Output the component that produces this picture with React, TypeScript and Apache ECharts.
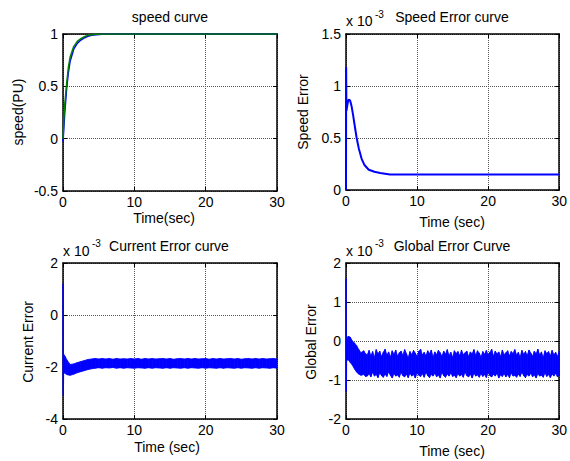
import React, { useEffect, useRef } from "react";
import * as echarts from "echarts";

// ---------- data ----------
// Time axis (s)
const X_MIN = 0;
const X_MAX = 30;
const X_INTERVAL = 10;

// Top-left: speed curve (PU)
const speedReference: [number, number][] = [
  [0, 0], [0.1, 0.17], [0.25, 0.33], [0.5, 0.52], [0.75, 0.68], [1, 0.78], [1.5, 0.88],
  [2, 0.93], [2.5, 0.955], [3, 0.975], [3.5, 0.988], [4.5, 0.998], [6, 1], [30, 1],
];
const speedActual: [number, number][] = [
  [0, -0.03], [0.1, 0.08], [0.25, 0.25], [0.5, 0.47], [0.75, 0.63], [1, 0.74], [1.5, 0.855],
  [2, 0.91], [2.5, 0.942], [3, 0.963], [3.5, 0.978], [4, 0.988], [5, 0.996], [6, 1], [30, 1],
];

// Top-right: speed error (x 10^-3)
const speedError: [number, number][] = [
  [0, 0], [0.02, 1.18], [0.06, 0.76], [0.15, 0.8], [0.3, 0.86], [0.45, 0.87], [0.6, 0.855],
  [0.8, 0.8], [1.0, 0.72], [1.2, 0.63], [1.5, 0.5], [1.8, 0.4], [2.2, 0.3], [2.6, 0.24],
  [3.2, 0.195], [4.0, 0.175], [4.8, 0.163], [6.2, 0.15], [8, 0.148], [30, 0.148],
];

// Bottom-left: current error (x 10^-3) — initial spike and noise band [t, upper, lower]
const currentSpike: [number, number][] = [[0, 1.2], [0.03, -3.1], [0.07, -1.6]];
const currentBand: [number, number, number][] = [
  [0.08, -1.5, -2.2], [0.3, -1.6, -2.25], [0.6, -1.75, -2.3], [1.0, -1.9, -2.32], [1.5, -1.88, -2.28],
  [2.0, -1.83, -2.22], [2.5, -1.79, -2.18], [3.0, -1.75, -2.14], [3.5, -1.71, -2.1], [4.0, -1.69, -2.07],
  [4.5, -1.67, -2.05], [5, -1.69, -2.03], [5.5, -1.67, -2.05], [6, -1.69, -2.03], [6.5, -1.67, -2.04],
  [7, -1.7, -2.02], [7.5, -1.67, -2.05], [8, -1.69, -2.03], [8.5, -1.68, -2.05], [9, -1.69, -2.03],
  [9.5, -1.67, -2.04], [10, -1.69, -2.05], [10.5, -1.67, -2.03], [11, -1.7, -2.04], [11.5, -1.67, -2.05],
  [12, -1.69, -2.03], [12.5, -1.67, -2.05], [13, -1.69, -2.03], [13.5, -1.68, -2.04], [14, -1.67, -2.05],
  [14.5, -1.69, -2.03], [15, -1.67, -2.05], [15.5, -1.7, -2.03], [16, -1.68, -2.04], [16.5, -1.67, -2.05],
  [17, -1.69, -2.03], [17.5, -1.67, -2.05], [18, -1.69, -2.03], [18.5, -1.67, -2.04], [19, -1.69, -2.05],
  [19.5, -1.68, -2.03], [20, -1.67, -2.05], [20.5, -1.7, -2.03], [21, -1.67, -2.04], [21.5, -1.69, -2.05],
  [22, -1.67, -2.03], [22.5, -1.69, -2.05], [23, -1.68, -2.03], [23.5, -1.67, -2.04], [24, -1.69, -2.05],
  [24.5, -1.67, -2.03], [25, -1.7, -2.05], [25.5, -1.68, -2.03], [26, -1.67, -2.04], [26.5, -1.69, -2.05],
  [27, -1.67, -2.03], [27.5, -1.69, -2.05], [28, -1.67, -2.03], [28.5, -1.69, -2.04], [29, -1.68, -2.05],
  [29.5, -1.67, -2.03], [30, -1.69, -2.05],
];

// Bottom-right: global error (x 10^-3) — initial spike and noise band [t, upper, lower]
const globalSpike: [number, number][] = [[0, 1.6], [0.03, -1.3], [0.07, 0.0]];
const globalBand: [number, number, number][] = [
  [0.08, 0.02, -0.5], [0.3, 0.12, -0.48], [0.6, 0.1, -0.55], [0.9, 0.0, -0.62], [1.2, -0.05, -0.72],
  [1.5, -0.12, -0.8], [1.8, -0.22, -0.85], [2.1, -0.3, -0.88], [2.5, -0.25, -0.86], [2.75, -0.33, -0.91],
  [3.0, -0.35, -0.9], [3.25, -0.24, -0.84], [3.5, -0.38, -0.92], [3.75, -0.27, -0.8], [4.0, -0.42, -0.9],
  [4.25, -0.22, -0.86], [4.5, -0.33, -0.94], [4.75, -0.26, -0.82], [5.0, -0.4, -0.89], [5.25, -0.29, -0.93],
  [5.5, -0.21, -0.85], [5.75, -0.36, -0.91], [6.0, -0.28, -0.79], [6.25, -0.41, -0.88], [6.5, -0.25, -0.95],
  [6.75, -0.34, -0.84], [7.0, -0.23, -0.9], [7.25, -0.39, -0.87], [7.5, -0.3, -0.93], [7.75, -0.26, -0.81],
  [8.0, -0.37, -0.89], [8.25, -0.22, -0.92], [8.5, -0.32, -0.85], [8.75, -0.43, -0.94], [9.0, -0.27, -0.83],
  [9.25, -0.35, -0.9], [9.5, -0.24, -0.86], [9.75, -0.31, -0.95], [10, -0.4, -0.82], [10.25, -0.26, -0.88],
  [10.5, -0.21, -0.91], [10.75, -0.36, -0.84], [11, -0.29, -0.93], [11.25, -0.38, -0.8], [11.5, -0.25, -0.89],
  [11.75, -0.33, -0.94], [12, -0.23, -0.86], [12.25, -0.41, -0.9], [12.5, -0.28, -0.83], [12.75, -0.35, -0.92],
  [13, -0.24, -0.87], [13.25, -0.3, -0.95], [13.5, -0.39, -0.81], [13.75, -0.26, -0.89], [14, -0.34, -0.93],
  [14.25, -0.22, -0.85], [14.5, -0.37, -0.9], [14.75, -0.29, -0.82], [15, -0.42, -0.91], [15.25, -0.25, -0.88],
  [15.5, -0.32, -0.94], [15.75, -0.27, -0.84], [16, -0.38, -0.9], [16.25, -0.23, -0.86], [16.5, -0.35, -0.93],
  [16.75, -0.3, -0.8], [17, -0.26, -0.89], [17.25, -0.4, -0.92], [17.5, -0.28, -0.85], [17.75, -0.33, -0.95],
  [18, -0.22, -0.83], [18.25, -0.37, -0.9], [18.5, -0.25, -0.87], [18.75, -0.31, -0.93], [19, -0.41, -0.84],
  [19.25, -0.27, -0.91], [19.5, -0.34, -0.86], [19.75, -0.24, -0.94], [20, -0.36, -0.81], [20.25, -0.29, -0.89],
  [20.5, -0.21, -0.92], [20.75, -0.39, -0.85], [21, -0.26, -0.9], [21.25, -0.33, -0.83], [21.5, -0.28, -0.95],
  [21.75, -0.4, -0.87], [22, -0.23, -0.91], [22.25, -0.35, -0.84], [22.5, -0.3, -0.92], [22.75, -0.25, -0.86],
  [23, -0.38, -0.94], [23.25, -0.27, -0.82], [23.5, -0.32, -0.9], [23.75, -0.22, -0.88], [24, -0.36, -0.93],
  [24.25, -0.29, -0.85], [24.5, -0.41, -0.91], [24.75, -0.24, -0.8], [25, -0.34, -0.89], [25.25, -0.27, -0.94],
  [25.5, -0.37, -0.86], [25.75, -0.23, -0.9], [26, -0.31, -0.83], [26.25, -0.39, -0.92], [26.5, -0.26, -0.87],
  [26.75, -0.33, -0.95], [27, -0.21, -0.84], [27.25, -0.36, -0.9], [27.5, -0.28, -0.88], [27.75, -0.42, -0.93],
  [28, -0.25, -0.82], [28.25, -0.32, -0.91], [28.5, -0.27, -0.86], [28.75, -0.38, -0.94], [29, -0.24, -0.85],
  [29.25, -0.35, -0.9], [29.5, -0.29, -0.83], [29.75, -0.4, -0.92], [30, -0.26, -0.88],
];

// Y axis ranges for the four panels
const Y_RANGES = [
  { min: -0.5, max: 1, interval: 0.5 },
  { min: 0, max: 1.5, interval: 0.5 },
  { min: -4, max: 2, interval: 2 },
  { min: -2, max: 2, interval: 1 },
];

const TITLES = ["speed curve", "Speed Error curve", "Current Error curve", "Global Error Curve"];
const X_NAMES = ["Time(sec)", "Time (sec)", "Time (sec)", "Time (sec)"];
const Y_NAMES = ["speed(PU)", "Speed Error", "Current Error", "Global Error"];

// ---------- layout ----------
const GRIDS = [
  { left: 63, top: 34, width: 214, height: 157 },
  { left: 346, top: 34, width: 215, height: 156 },
  { left: 63, top: 263, width: 214, height: 156 },
  { left: 346, top: 263, width: 215, height: 156 },
];
const TITLE_POS = [[170, 17], [452, 17], [169, 246], [452, 246]];
const XNAME_POS = [[164, 218], [452, 222], [167, 447], [452, 451]];
const YNAME_POS = [[18, 112], [303, 112], [28, 342], [311, 342]];
const EXP_POS = [null, [346, 21, 375, 14], [63, 251, 92, 243], [346, 251, 375, 243]];

const FONT = '"Liberation Sans", Arial, Helvetica, sans-serif';
const BLUE = "#0000ff";
const GREEN = "#008000";

function bandRenderer(band: [number, number, number][]) {
  return (params: any, api: any) => {
    const i = params.dataIndex;
    if (i >= band.length - 1) return null;
    const a = band[i];
    const b = band[i + 1];
    const pts = [
      api.coord([a[0], a[1]]),
      api.coord([b[0], b[1]]),
      api.coord([b[0], b[2]]),
      api.coord([a[0], a[2]]),
    ];
    return {
      type: "polygon",
      shape: { points: pts },
      style: { fill: BLUE, stroke: BLUE, lineWidth: 0.8 },
    };
  };
}

export default function App() {
  const ref = useRef<HTMLDivElement>(null);

  useEffect(() => {
    if (!ref.current) return;
    const chart = echarts.init(ref.current, undefined, { renderer: "svg" });

    const xAxes: any[] = [];
    const yAxes: any[] = [];
    GRIDS.forEach((_, g) => {
      const line = { show: true, onZero: false, lineStyle: { color: "#000", width: 1.5 } };
      const tick = { show: true, inside: true, length: 4, lineStyle: { color: "#000", width: 1 } };
      const split = { show: true, lineStyle: { type: "dotted", color: "#555", width: 1 } };
      const label = { color: "#000", fontSize: 14, fontFamily: FONT };
      xAxes.push({
        type: "value", gridIndex: g, position: "bottom", min: X_MIN, max: X_MAX, interval: X_INTERVAL,
        axisLine: line, axisTick: tick, splitLine: split, axisLabel: { ...label, margin: 4 },
      });
      xAxes.push({
        type: "value", gridIndex: g, position: "top", min: X_MIN, max: X_MAX, interval: X_INTERVAL,
        axisLine: line, axisTick: tick, splitLine: { show: false }, axisLabel: { show: false },
      });
      yAxes.push({
        type: "value", gridIndex: g, position: "left", ...Y_RANGES[g],
        axisLine: line, axisTick: tick, splitLine: split, axisLabel: { ...label, margin: 5 },
      });
      yAxes.push({
        type: "value", gridIndex: g, position: "right", ...Y_RANGES[g],
        axisLine: line, axisTick: tick, splitLine: { show: false }, axisLabel: { show: false },
      });
    });

    const lineBase = { type: "line", showSymbol: false, symbol: "none", silent: true, clip: true };

    const series: any[] = [
      { ...lineBase, xAxisIndex: 0, yAxisIndex: 0, data: speedActual, lineStyle: { color: BLUE, width: 1.5 } },
      { ...lineBase, xAxisIndex: 0, yAxisIndex: 0, data: speedReference, lineStyle: { color: GREEN, width: 1.5 } },
      { ...lineBase, xAxisIndex: 2, yAxisIndex: 2, data: speedError, lineStyle: { color: BLUE, width: 2 } },
      { ...lineBase, xAxisIndex: 4, yAxisIndex: 4, data: currentSpike, lineStyle: { color: BLUE, width: 1.5 } },
      {
        type: "custom", xAxisIndex: 4, yAxisIndex: 4, data: currentBand, silent: true, clip: true,
        encode: { x: 0, y: [1, 2] }, renderItem: bandRenderer(currentBand),
      },
      { ...lineBase, xAxisIndex: 6, yAxisIndex: 6, data: globalSpike, lineStyle: { color: BLUE, width: 1.5 } },
      {
        type: "custom", xAxisIndex: 6, yAxisIndex: 6, data: globalBand, silent: true, clip: true,
        encode: { x: 0, y: [1, 2] }, renderItem: bandRenderer(globalBand),
      },
    ];

    const textStyle = (size: number) => ({ fontSize: size, fontFamily: FONT, fill: "#000" });
    const graphic: any[] = [];
    TITLES.forEach((t, g) => {
      graphic.push({
        type: "text", x: TITLE_POS[g][0], y: TITLE_POS[g][1],
        style: { text: t, ...textStyle(14), textAlign: "center", textVerticalAlign: "middle" },
      });
      graphic.push({
        type: "text", x: XNAME_POS[g][0], y: XNAME_POS[g][1],
        style: { text: X_NAMES[g], ...textStyle(14), textAlign: "center", textVerticalAlign: "middle" },
      });
      graphic.push({
        type: "text", x: YNAME_POS[g][0], y: YNAME_POS[g][1], rotation: Math.PI / 2,
        style: { text: Y_NAMES[g], ...textStyle(14), textAlign: "center", textVerticalAlign: "middle" },
      });
      const e = EXP_POS[g];
      if (e) {
        graphic.push({
          type: "text", x: e[0], y: e[1],
          style: { text: "x 10", ...textStyle(14), textAlign: "left", textVerticalAlign: "middle" },
        });
        graphic.push({
          type: "text", x: e[2], y: e[3],
          style: { text: "-3", ...textStyle(10), textAlign: "left", textVerticalAlign: "middle" },
        });
      }
    });

    chart.setOption({
      animation: false,
      backgroundColor: "#ffffff",
      grid: GRIDS.map((g) => ({ ...g, containLabel: false })),
      xAxis: xAxes,
      yAxis: yAxes,
      series,
      graphic,
    });

    return () => chart.dispose();
  }, []);

  return (
    <div
      ref={ref}
      style={{ position: "fixed", left: 0, top: 0, width: 570, height: 461, background: "#fff" }}
    />
  );
}
